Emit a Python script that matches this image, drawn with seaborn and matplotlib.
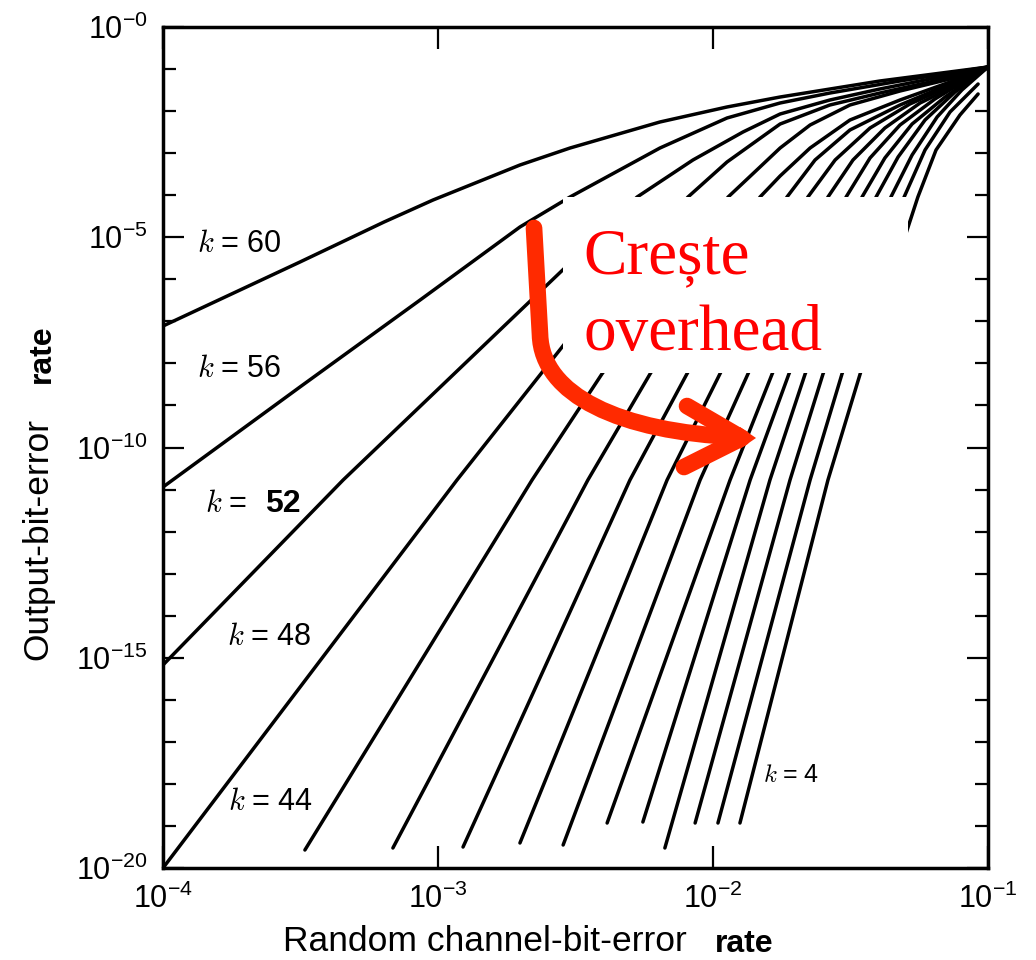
import numpy as np
import pandas as pd
import matplotlib
matplotlib.use("Agg")
import matplotlib.pyplot as plt
import seaborn as sns
from matplotlib.patches import Rectangle, PathPatch, Polygon
from matplotlib.path import Path
from matplotlib.lines import Line2D
from matplotlib.ticker import FixedLocator, NullLocator, NullFormatter

# ---------------- data (log10 of channel BER / output BER) ----------------
k_values = [60, 56, 52, 48, 44, 40, 36, 32, 28, 24, 20, 16, 12, 8, 4]

k60_logx = [-4.000, -3.502, -3.196, -3.018, -2.702, -2.520, -2.193, -1.949, -1.756, -1.393, -1.000]
k60_logy = [-7.111, -5.589, -4.637, -4.114, -3.282, -2.878, -2.259, -1.902, -1.665, -1.284, -0.951]
k56_logx = [-4.000, -3.502, -3.065, -2.702, -2.520, -2.193, -1.949, -1.756, -1.575, -1.320, -1.000]
k56_logy = [-10.940, -8.561, -6.492, -4.756, -4.043, -2.878, -2.164, -1.807, -1.570, -1.284, -0.951]
k52_logx = [-4.000, -3.345, -2.520, -2.276, -2.073, -1.891, -1.756, -1.575, -1.393, -1.211, -1.000]
k52_logy = [-15.172, -10.773, -5.612, -4.043, -3.163, -2.497, -2.069, -1.736, -1.474, -1.237, -0.951]
k48_logx = [-4.000, -2.931, -2.520, -2.091, -1.949, -1.756, -1.575, -1.393, -1.211, -1.000]
k48_logy = [-20.000, -10.773, -7.372, -4.043, -3.210, -2.307, -1.855, -1.570, -1.308, -0.951]
k44_logx = [-3.484, -2.658, -2.404, -1.945, -1.829, -1.756, -1.647, -1.502, -1.320, -1.138, -1.000]
k44_logy = [-19.572, -10.773, -8.252, -4.043, -3.329, -2.878, -2.331, -1.855, -1.522, -1.237, -0.951]
k40_logx = [-3.164, -2.455, -2.229, -1.829, -1.756, -1.647, -1.502, -1.320, -1.138, -1.000]
k40_logy = [-19.524, -10.773, -8.252, -4.043, -3.543, -2.878, -2.212, -1.736, -1.308, -0.951]
k36_logx = [-2.909, -2.302, -2.095, -1.731, -1.629, -1.502, -1.320, -1.138, -1.000]
k36_logy = [-19.501, -10.773, -8.252, -4.043, -3.163, -2.449, -1.855, -1.356, -0.951]
k32_logx = [-2.702, -2.167, -1.975, -1.655, -1.556, -1.429, -1.284, -1.138, -1.000]
k32_logy = [-19.405, -10.773, -8.252, -4.043, -3.163, -2.402, -1.831, -1.403, -0.951]
k28_logx = [-2.545, -2.047, -1.873, -1.582, -1.491, -1.375, -1.247, -1.120, -1.000]
k28_logy = [-19.453, -10.773, -8.252, -4.043, -3.163, -2.402, -1.807, -1.403, -0.951]
k24_logx = [-2.385, -1.938, -1.785, -1.516, -1.429, -1.320, -1.193, -1.000]
k24_logy = [-18.930, -10.773, -8.252, -4.043, -3.115, -2.331, -1.712, -0.951]
k20_logx = [-2.255, -1.865, -1.724, -1.458, -1.375, -1.276, -1.156, -1.000]
k20_logy = [-18.906, -10.773, -8.252, -4.043, -3.115, -2.307, -1.665, -0.951]
k16_logx = [-2.175, -1.793, -1.665, -1.407, -1.327, -1.229, -1.120, -1.000]
k16_logy = [-19.524, -10.773, -8.252, -4.043, -3.092, -2.212, -1.546, -0.951]
k12_logx = [-2.065, -1.720, -1.600, -1.353, -1.276, -1.185, -1.095, -1.000]
k12_logy = [-18.930, -10.773, -8.252, -4.043, -3.044, -2.140, -1.498, -0.951]
k8_logx = [-1.982, -1.647, -1.531, -1.305, -1.229, -1.138, -1.036]
k8_logy = [-18.930, -10.773, -8.252, -4.043, -2.925, -2.021, -1.356]
k4_logx = [-1.902, -1.582, -1.465, -1.255, -1.189, -1.102, -1.036]
k4_logy = [-18.930, -10.773, -8.252, -4.043, -2.925, -2.093, -1.593]

x_tick_values = [1e-4, 1e-3, 1e-2, 1e-1]
x_tick_labels = [r"$10^{-4}$", r"$10^{-3}$", r"$10^{-2}$", r"$10^{-1}$"]
y_tick_values = [1e0, 1e-5, 1e-10, 1e-15, 1e-20]
y_tick_labels = [r"$10^{-0}$", r"$10^{-5}$", r"$10^{-10}$", r"$10^{-15}$", r"$10^{-20}$"]
y_minor_exponents = [e for e in range(-19, 0) if e % 5 != 0]

x_label_main = "Random channel-bit-error"
y_label_main = "Output-bit-error"
label_suffix = "rate"
note_lines = ["Crește", "overhead"]

curves_logx = [k60_logx, k56_logx, k52_logx, k48_logx, k44_logx, k40_logx, k36_logx,
               k32_logx, k28_logx, k24_logx, k20_logx, k16_logx, k12_logx, k8_logx, k4_logx]
curves_logy = [k60_logy, k56_logy, k52_logy, k48_logy, k44_logy, k40_logy, k36_logy,
               k32_logy, k28_logy, k24_logy, k20_logy, k16_logy, k12_logy, k8_logy, k4_logy]

rows = []
for k, lx, ly in zip(k_values, curves_logx, curves_logy):
    for i, (a, b) in enumerate(zip(lx, ly)):
        rows.append({"k": k, "order": i, "x": 10.0 ** a, "y": 10.0 ** b})
df = pd.DataFrame(rows)

# ---------------- style ----------------
sns.set_theme(style="ticks")
plt.rcParams["font.family"] = ["Liberation Sans", "DejaVu Sans"]
plt.rcParams["mathtext.fontset"] = "custom"
plt.rcParams["mathtext.rm"] = "Liberation Sans"
plt.rcParams["mathtext.it"] = "Liberation Sans:italic"
plt.rcParams["mathtext.bf"] = "Liberation Sans:bold"
plt.rcParams["axes.linewidth"] = 2.5
plt.rcParams["axes.edgecolor"] = "black"
plt.rcParams["text.color"] = "black"
plt.rcParams["xtick.color"] = "black"
plt.rcParams["ytick.color"] = "black"

W, H = 1036, 960
fig = plt.figure(figsize=(W / 100, H / 100), dpi=100)
fig.patch.set_facecolor("white")
ax = fig.add_axes([163 / W, 1 - 868 / H, 825 / W, 841 / H])
ax.set_facecolor("white")

sns.lineplot(data=df, x="x", y="y", units="k", estimator=None, sort=False,
             color="black", linewidth=2.5, ax=ax, legend=False)

ax.set_xscale("log")
ax.set_yscale("log")
ax.set_xlim(1e-4, 1e-1)
ax.set_ylim(1e-20, 1e0)
ax.set_xlabel("")
ax.set_ylabel("")

ax.xaxis.set_major_locator(FixedLocator(x_tick_values))
ax.set_xticklabels(x_tick_labels)
ax.xaxis.set_minor_locator(NullLocator())
ax.xaxis.set_minor_formatter(NullFormatter())
ax.yaxis.set_major_locator(FixedLocator(y_tick_values))
ax.set_yticklabels(y_tick_labels)
ax.yaxis.set_minor_locator(FixedLocator([10.0 ** e for e in y_minor_exponents]))
ax.yaxis.set_minor_formatter(NullFormatter())

ax.tick_params(axis="x", which="major", direction="in", length=16, width=1.6,
               top=True, bottom=True, labelsize=22, pad=11, colors="black")
ax.tick_params(axis="y", which="major", direction="in", length=15, width=1.6,
               left=True, right=True, labelsize=22, pad=11, colors="black")
ax.tick_params(axis="y", which="minor", direction="in", length=9.5, width=1.6,
               left=True, right=True, colors="black", labelleft=False, labelright=False)
for s in ax.spines.values():
    s.set_color("black")
    s.set_linewidth(2.5)

# ---------------- curve labels ----------------
lab_kw = dict(transform=ax.transAxes, ha="left", va="baseline", color="black",
              math_fontfamily="cm", zorder=5)
ax.text(0.0412, 0.7325, r"$k\;$= 60", fontsize=22, **lab_kw)
ax.text(0.0412, 0.5838, r"$k\;$= 56", fontsize=22, **lab_kw)
ax.text(0.0509, 0.4233, r"$k\;$=", fontsize=22, **lab_kw)
ax.text(0.1236, 0.4233, "52", fontsize=23, fontweight="bold", transform=ax.transAxes,
        ha="left", va="baseline", color="black", zorder=5)
ax.text(0.0776, 0.2652, r"$k\;$= 48", fontsize=22, **lab_kw)
ax.text(0.0788, 0.0690, r"$k\;$= 44", fontsize=22, **lab_kw)
ax.text(0.7273, 0.1023, r"$k\;$= 4", fontsize=18, **lab_kw)

# ---------------- axis labels ----------------
fig.text(283 / W, 1 - 951 / H, x_label_main, fontsize=25.5, ha="left", va="baseline",
         color="black")
fig.text(715 / W, 1 - 952 / H, label_suffix, fontsize=23, fontweight="bold",
         ha="left", va="baseline", color="black")
fig.text(47 / W, 1 - 660 / H, y_label_main, fontsize=25.5, rotation=90,
         rotation_mode="anchor", ha="left", va="baseline", color="black")
fig.text(50 / W, 1 - 383 / H, label_suffix, fontsize=23, fontweight="bold", rotation=90,
         rotation_mode="anchor", ha="left", va="baseline", color="black")

# ---------------- overlay: white box, red note and arrow ----------------
ax.add_patch(Rectangle((0.4848, 0.5886), 0.4182, 0.2093, transform=ax.transAxes,
                       facecolor="white", edgecolor="none", zorder=3))
note_kw = dict(transform=ax.transAxes, ha="left", va="baseline", color="#ff0000",
               fontsize=47, family=["Liberation Serif", "DejaVu Serif"], zorder=5)
ax.text(0.5091, 0.7075, note_lines[0], **note_kw)
ax.text(0.5091, 0.6159, note_lines[1], **note_kw)

arrow_color = "#ff2a00"
shaft = Path([(0.4497, 0.7610), (0.4570, 0.6338), (0.4594, 0.5624), (0.5539, 0.5184), (0.6970, 0.5125)],
             [Path.MOVETO, Path.LINETO, Path.CURVE4, Path.CURVE4, Path.CURVE4])
ax.add_patch(PathPatch(shaft, transform=ax.transAxes, facecolor="none", edgecolor=arrow_color,
                       linewidth=12, capstyle="round", joinstyle="round", zorder=6))
head = Line2D([0.6352, 0.7018, 0.6315], [0.5493, 0.5113, 0.4768], transform=ax.transAxes,
              color=arrow_color, linewidth=12, solid_capstyle="round",
              solid_joinstyle="round", zorder=6)
ax.add_line(head)
ax.add_patch(Polygon([(0.6994, 0.5244), (0.7188, 0.5113), (0.6994, 0.4982)], closed=True,
                     transform=ax.transAxes, facecolor=arrow_color, edgecolor="none", zorder=6))

fig.savefig("out.png", dpi=100, facecolor="white")
